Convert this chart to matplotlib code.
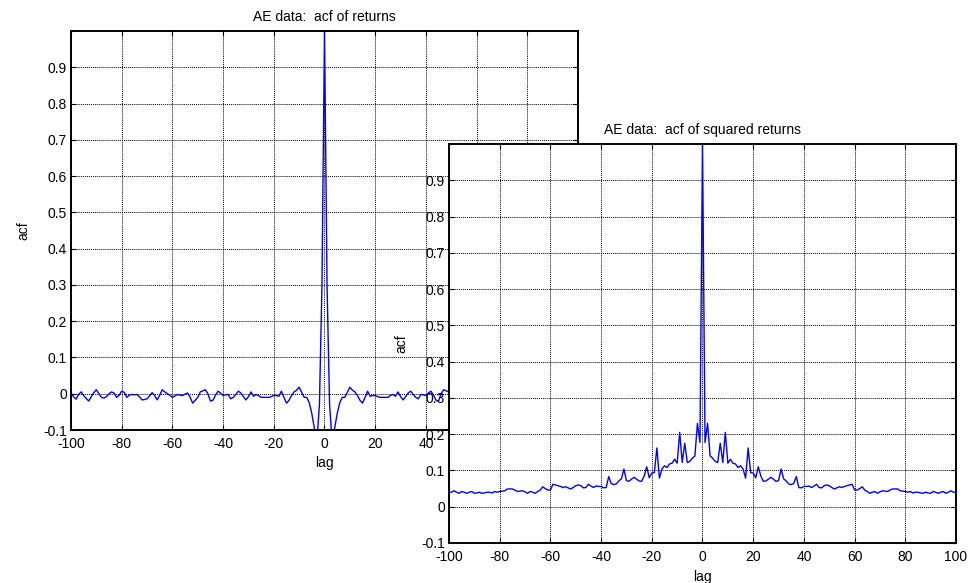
import numpy as np
import matplotlib
matplotlib.use("Agg")
import matplotlib.pyplot as plt
from matplotlib.ticker import FuncFormatter

plt.rcParams['font.family'] = ['Liberation Sans', 'DejaVu Sans']
plt.rcParams['font.size'] = 10
plt.rcParams['axes.unicode_minus'] = False

# Sample autocorrelations for lags 1..100 (the acf is symmetric in the lag)
ret_acf = [0.30, -0.03, -0.13, -0.095, -0.055, -0.025, -0.01, -0.01, 0.004, 0.018,
           0.01, 0.005, -0.005, -0.018, -0.026, -0.01, 0.007, -0.007, -0.005, -0.005,
           -0.008, -0.01, -0.01, -0.01, -0.01, -0.005, -0.002, -0.007, 0.005, -0.008,
           -0.017, -0.008, 0.002, 0.007, -0.002, -0.01, -0.014, -0.002, -0.003, -0.005,
           0.002, 0.007, -0.004, -0.018, -0.02, 0.0, 0.011, 0.008, 0.005, -0.01,
           -0.018, -0.026, -0.01, 0.002, -0.001, -0.005, -0.004, -0.002, -0.006, -0.01,
           -0.004, 0.0, 0.005, 0.011, -0.004, -0.017, -0.005, 0.003, -0.006, -0.014,
           -0.016, -0.017, -0.008, -0.002, -0.003, -0.002, -0.004, -0.01, 0.004, 0.007,
           -0.004, -0.01, 0.002, 0.005, 0.0, -0.008, -0.012, -0.01, 0.0, 0.011,
           0.003, -0.008, -0.02, -0.013, -0.005, 0.005, -0.002, -0.015, -0.008, 0.002]

sq_acf = [0.177, 0.23, 0.14, 0.134, 0.125, 0.122, 0.175, 0.122, 0.205, 0.12,
          0.131, 0.12, 0.118, 0.108, 0.113, 0.104, 0.079, 0.162, 0.094, 0.093,
          0.08, 0.11, 0.085, 0.07, 0.071, 0.076, 0.081, 0.076, 0.07, 0.072,
          0.104, 0.077, 0.071, 0.063, 0.061, 0.064, 0.083, 0.053, 0.052, 0.056,
          0.056, 0.057, 0.053, 0.057, 0.062, 0.053, 0.052, 0.058, 0.06, 0.058,
          0.053, 0.049, 0.052, 0.055, 0.053, 0.056, 0.058, 0.06, 0.062, 0.046,
          0.046, 0.05, 0.055, 0.046, 0.042, 0.037, 0.04, 0.042, 0.037, 0.041,
          0.044, 0.043, 0.042, 0.046, 0.049, 0.049, 0.049, 0.044, 0.043, 0.042,
          0.04, 0.042, 0.038, 0.04, 0.04, 0.038, 0.037, 0.04, 0.038, 0.037,
          0.042, 0.04, 0.037, 0.04, 0.042, 0.037, 0.04, 0.044, 0.04, 0.04]

x_ticks = [-100, -80, -60, -40, -20, 0, 20, 40, 60, 80, 100]
y_ticks = [-0.1, 0, 0.1, 0.2, 0.3, 0.4, 0.5, 0.6, 0.7, 0.8, 0.9]

lags = np.arange(-100, 101)


def full_acf(half):
    half = np.asarray(half)
    return np.concatenate([half[::-1], [1.0], half])


def style_axes(ax, title):
    ax.set_xlim(-100, 100)
    ax.set_ylim(-0.1, 1.0)
    ax.set_xticks(x_ticks)
    ax.set_yticks(y_ticks)
    ax.yaxis.set_major_formatter(FuncFormatter(lambda v, p: f"{v:g}"))
    ax.xaxis.set_major_formatter(FuncFormatter(lambda v, p: f"{v:g}"))
    ax.tick_params(direction='in', length=3.6, width=0.8, top=True, right=True,
                   labelsize=10, colors='black')
    ax.tick_params(axis='x', pad=5)
    ax.tick_params(axis='y', pad=3)
    ax.grid(True, color='black', linestyle=(0, (1, 1)), linewidth=0.7)
    ax.set_axisbelow(True)
    for s in ax.spines.values():
        s.set_linewidth(1.4)
        s.set_color('black')
    ax.set_title(title, fontsize=10, pad=7)
    ax.set_xlabel('lag', fontsize=10, labelpad=4)
    ax.set_ylabel('acf', fontsize=10, labelpad=9)
    ax.set_facecolor('white')


fig = plt.figure(figsize=(9.78, 5.83), dpi=100)
W, H = 978.0, 583.0
ax1 = fig.add_axes([71 / W, (H - 430) / H, 507 / W, 399 / H])
ax2 = fig.add_axes([449 / W, (H - 543) / H, 507 / W, 399 / H])

ax1.plot(lags, full_acf(ret_acf), color=(0, 0, 1), linewidth=1.0)
style_axes(ax1, 'AE data:  acf of returns')

ax2.plot(lags, full_acf(sq_acf), color=(0, 0, 1), linewidth=1.0)
style_axes(ax2, 'AE data:  acf of squared returns')

fig.savefig('out.png', dpi=100, facecolor='white')
